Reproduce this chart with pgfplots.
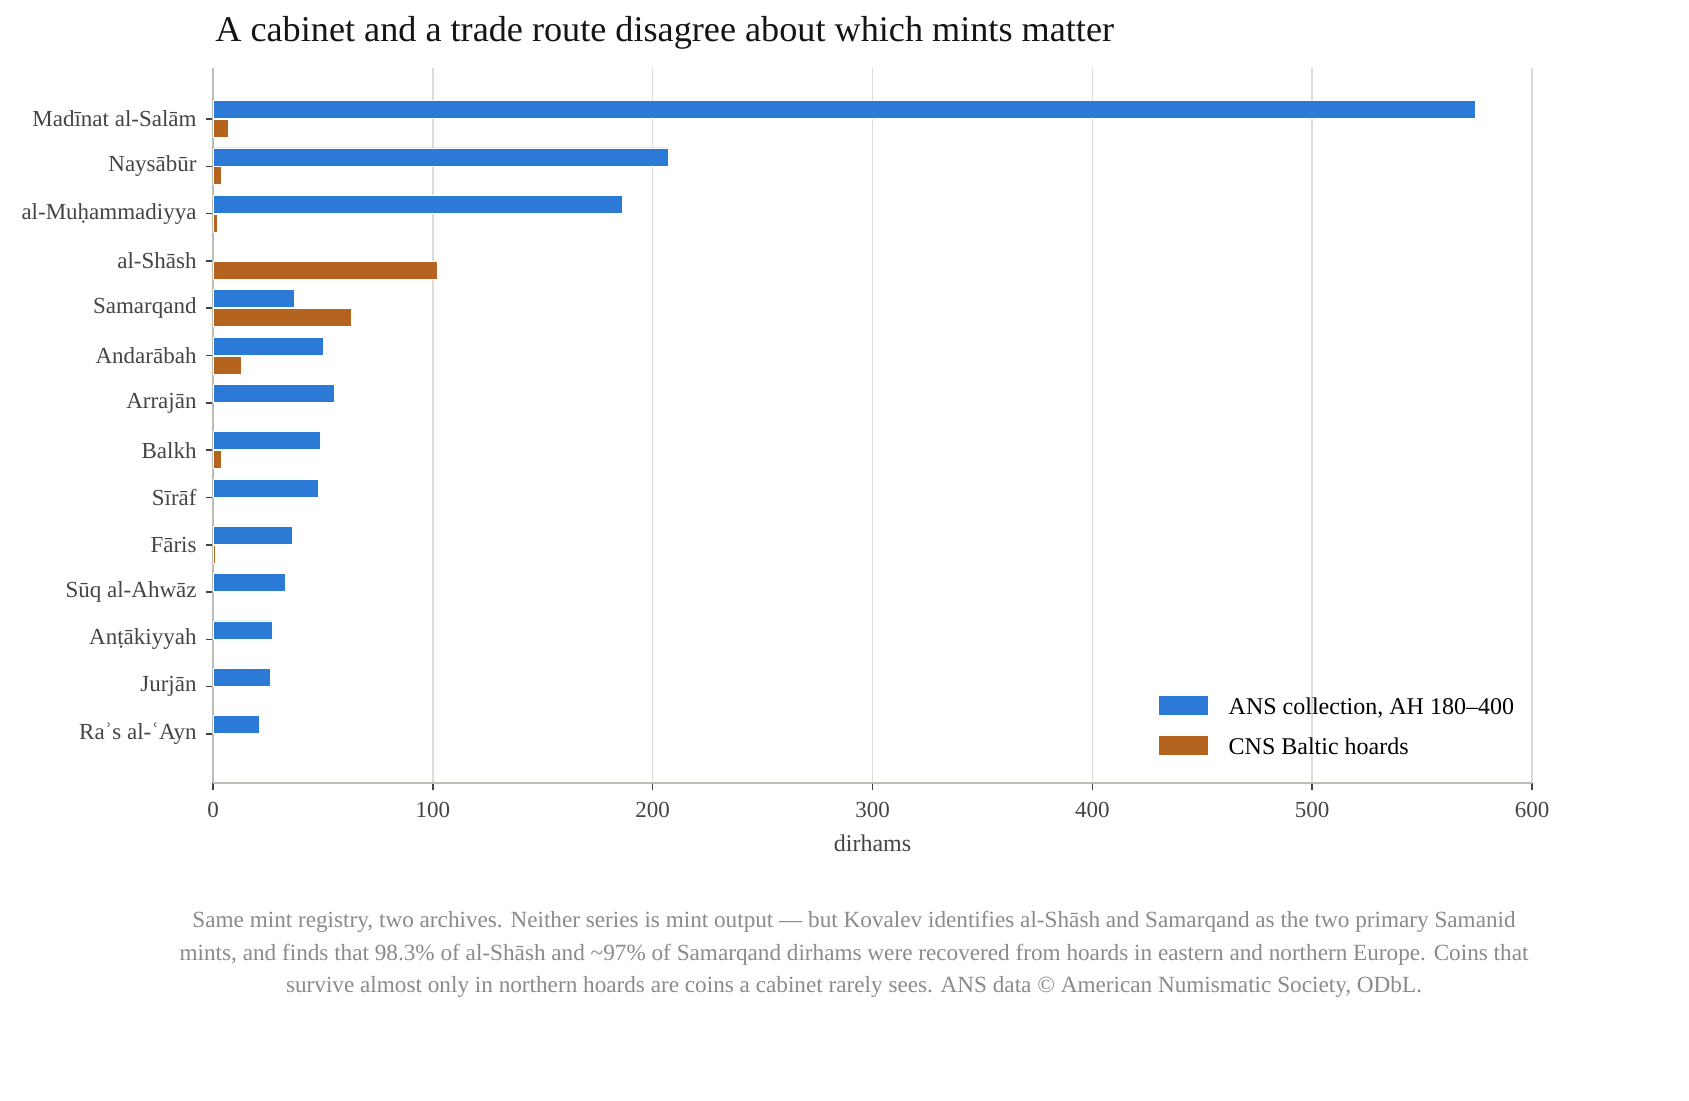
\documentclass[border=0pt]{standalone}
\usepackage{fontspec}
\setmainfont{Liberation Serif}
\usepackage{pgfplots}
\pgfplotsset{compat=1.18}
\definecolor{ansblue}{HTML}{2A7AD6}
\definecolor{cnsorange}{HTML}{B5641F}
\definecolor{gridc}{HTML}{DCDCD6}
\definecolor{spinec}{HTML}{BDBDB5}
\definecolor{tickc}{HTML}{444444}
\definecolor{footc}{HTML}{8A8A8A}
\begin{document}
\begin{tikzpicture}
\useasboundingbox (0,0) rectangle (844.5pt,550pt);
\begin{axis}[
  at={(106.5pt,158.5pt)}, anchor=south west,
  width=659.5pt, height=357.5pt, scale only axis,
  xbar, bar width=0.38,
  xmin=0, xmax=600, ymin=-1.036, ymax=14.078,
  axis x line*=bottom, axis y line*=left,
  axis line style={draw=spinec, line width=1pt, -},
  xtick={0,100,200,300,400,500,600},
  ytick={0,1,2,3,4,5,6,7,8,9,10,11,12,13},
  yticklabels={Raʾs al-ʿAyn, Jurjān, Anṭākiyyah, Sūq al-Ahwāz, Fāris, Sīrāf, Balkh, Arrajān, Andarābah, Samarqand, al-Shāsh, al-Muḥammadiyya, Naysābūr, Madīnat al-Salām},
  tick align=outside, tick pos=left,
  major tick length=3.5pt,
  tick style={color=tickc, line width=0.8pt},
  xmajorgrids, grid style={gridc, line width=0.8pt},
  /pgf/number format/assume math mode=true,
  ticklabel style={font=\fontsize{11.5}{13}\selectfont, text=tickc},
  xticklabel style={yshift=-2.5pt},
  yticklabel style={xshift=-1.2pt},
  legend style={draw=none, fill=none, at={(0.717,0.0789)}, anchor=west,
    font=\fontsize{12}{14}\selectfont, row sep=9.1pt, inner sep=0pt,
    nodes={inner sep=0pt, anchor=base west}},
  legend cell align=left,
]
\addplot[fill=ansblue, draw=white, line width=0.3pt, bar shift=0.2,
  legend image code/.code={\fill[ansblue] (0pt,0pt) rectangle (24pt,9.3pt); \path (34.5pt,0pt);}]
  coordinates {(574,13) (207,12) (186,11) (37,9) (50,8) (55,7) (49,6) (48,5) (36,4) (33,3) (27,2) (26,1) (21,0)};
\addlegendentry{ANS collection, AH 180–400}
\addplot[fill=cnsorange, draw=white, line width=0.3pt, bar shift=-0.2,
  legend image code/.code={\fill[cnsorange] (0pt,0pt) rectangle (24pt,9.3pt); \path (34.5pt,0pt);}]
  coordinates {(7,13) (4,12) (2,11) (102,10) (63,9) (13,8) (4,6) (1,4)};
\addlegendentry{CNS Baltic hoards}
\end{axis}
\node[anchor=base west, inner sep=0pt, font=\fontsize{18.1}{22}\selectfont, text=black!92] at (107.5pt,529pt) {A cabinet and a trade route disagree about which mints matter};
\node[anchor=base, inner sep=0pt, font=\fontsize{12}{14}\selectfont, text=tickc] at (436.25pt,124.5pt) {dirhams};
\node[anchor=base, inner sep=0pt, font=\fontsize{11.6}{13}\selectfont, text=footc] at (427pt,86.5pt) {Same mint registry, two archives. Neither series is mint output — but Kovalev identifies al-Shāsh and Samarqand as the two primary Samanid};
\node[anchor=base, inner sep=0pt, font=\fontsize{11.6}{13}\selectfont, text=footc] at (427pt,70pt) {mints, and finds that 98.3\% of al-Shāsh and \textasciitilde97\% of Samarqand dirhams were recovered from hoards in eastern and northern Europe. Coins that};
\node[anchor=base, inner sep=0pt, font=\fontsize{11.6}{13}\selectfont, text=footc] at (427pt,54pt) {survive almost only in northern hoards are coins a cabinet rarely sees. ANS data © American Numismatic Society, ODbL.};
\end{tikzpicture}
\end{document}
